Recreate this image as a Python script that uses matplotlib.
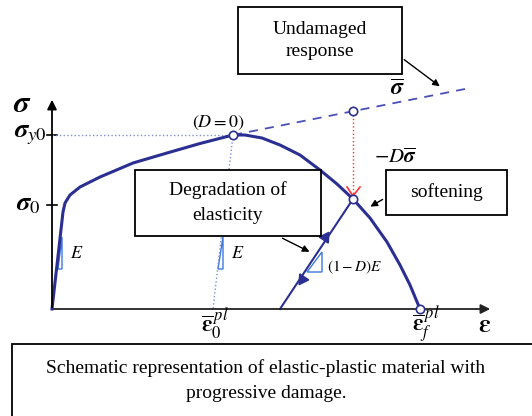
import matplotlib.pyplot as plt
from matplotlib.patches import Rectangle, Polygon
import numpy as np

plt.rcParams['mathtext.fontset'] = 'stix'
plt.rcParams['font.family'] = 'Liberation Serif'

# schematic coordinates: strain (eps) to the right, stress (sig) up
hard_eps = [0, 11, 13, 18, 28, 48, 81, 115, 148, 181]
hard_sig = [0, 97, 106, 114, 122, 132, 146, 156, 165.5, 174]
soft_eps = [181, 193, 210, 228, 248, 268, 285, 301, 318, 335, 348, 358, 368]
soft_sig = [174, 174, 171, 164, 154, 139, 125, 110, 91, 67, 44, 24, 0]
undamaged_eps = [181, 418]
undamaged_sig = [174, 221]
peak = (181, 174)
soft_pt = (301, 110)
bar_pt = (301, 198)
unload_end = (228, 0)
eps0_pl = 161
epsf_pl = 368
sig_0 = 104
sig_y0 = 174

curve_c = '#2b2f91'
light_c = '#3d78e0'
dot_c = '#7f8fd8'
red_c = '#ff3030'

fig = plt.figure(figsize=(5.32, 4.16), dpi=100)
ax = fig.add_axes([0, 0, 1, 1])
ax.set_xlim(-52, 480)
ax.set_ylim(-107, 309)
ax.axis('off')

# axes arrows
ax.annotate('', xy=(0, 212), xytext=(0, -1),
            arrowprops=dict(arrowstyle='-|>', color='black', lw=1.3, mutation_scale=14))
ax.annotate('', xy=(441, 0), xytext=(-1, 0),
            arrowprops=dict(arrowstyle='-|>', color='#222222', lw=1.3, mutation_scale=14))
for s in [sig_0, sig_y0]:
    ax.plot([-5, 5], [s, s], color='black', lw=1.2)

# dotted guides
ax.plot([0, peak[0]], [sig_y0, sig_y0], color=dot_c, lw=1, ls=':')
ax.plot([peak[0], eps0_pl], [peak[1], 0], color=dot_c, lw=1, ls=':')
ax.plot([bar_pt[0], soft_pt[0]], [bar_pt[1], soft_pt[1] + 4], color=red_c, lw=1, ls=':')
ax.plot([soft_pt[0] - 6, soft_pt[0], soft_pt[0] + 7], [soft_pt[1] + 12, soft_pt[1] + 3, soft_pt[1] + 12],
        color=red_c, lw=1.2)

# undamaged response
ax.plot(undamaged_eps, undamaged_sig, color='#4a4fb5', lw=1.3, ls=(0, (5, 4)))

# damaged curve
ax.plot(hard_eps, hard_sig, color=curve_c, lw=2.2, solid_joinstyle='round')
ax.plot(soft_eps, soft_sig, color=curve_c, lw=2.2, solid_joinstyle='round')
ax.plot([unload_end[0], soft_pt[0]], [unload_end[1], soft_pt[1]], color=curve_c, lw=1.5)
ang = np.degrees(np.arctan2(soft_pt[1] - unload_end[1], soft_pt[0] - unload_end[0]))
ax.plot(273, 72, marker=(3, 0, ang - 90), ms=9, color=curve_c)
ax.plot(250, 30, marker=(3, 0, ang + 90), ms=9, color=curve_c)

# slope triangles
for tri in [[(6, 40), (10, 40), (10, 72)], [(166, 40), (171, 40), (171, 72)],
            [(255, 37), (270, 37), (270, 57)]]:
    ax.add_patch(Polygon(tri, closed=True, fill=False, ec=light_c, lw=1))

# circles
for p in [peak, soft_pt, bar_pt, (epsf_pl, 0)]:
    ax.plot(*p, marker='o', ms=6, mfc='white', mec=curve_c, mew=1.2, zorder=5)

# math labels
ax.text(-30, 205, r'$\boldsymbol{\sigma}$', fontsize=22, ha='center', va='center')
ax.text(-22, 174, r'$\boldsymbol{\sigma}_{y0}$', fontsize=19, ha='center', va='center')
ax.text(-24, 104, r'$\boldsymbol{\sigma}_0$', fontsize=19, ha='center', va='center')
ax.text(25, 56, r'$E$', fontsize=13, ha='center', va='center')
ax.text(186, 56, r'$E$', fontsize=13, ha='center', va='center')
ax.text(275, 42, r'$(1-D)E$', fontsize=11, ha='left', va='center')
ax.text(166, 186, r'$(D=0)$', fontsize=13, ha='center', va='center')
ax.text(345, 219, r'$\overline{\boldsymbol{\sigma}}$', fontsize=17, ha='center', va='center')
ax.text(343, 151, r'$-D\overline{\boldsymbol{\sigma}}$', fontsize=15, ha='center', va='center')
ax.text(163, -15, r'$\overline{\boldsymbol{\varepsilon}}_0^{\,pl}$', fontsize=17, ha='center', va='center')
ax.text(374, -15, r'$\overline{\boldsymbol{\varepsilon}}_f^{\,pl}$', fontsize=17, ha='center', va='center')
ax.text(433, -17, r'$\boldsymbol{\varepsilon}$', fontsize=19, ha='center', va='center')

# text boxes
boxes = [((186, 235), 164, 67, ['Undamaged', 'response'], [279, 257]),
         ((83, 73), 186, 66, ['Degradation of', 'elasticity'], [119, 94]),
         ((334, 94), 121, 45, ['softening'], [117])]
for (x0, y0), w, h, lines, ys in boxes:
    ax.add_patch(Rectangle((x0, y0), w, h, fc='white', ec='black', lw=1.3, zorder=6))
    for t, y in zip(lines, ys):
        ax.text(x0 + w / 2, y, t, fontsize=14, ha='center', va='center', zorder=7)

for start, end in [((350, 251), (390, 221)), ((228, 72), (260, 56)), ((333, 111), (316, 101))]:
    ax.annotate('', xy=end, xytext=start,
                arrowprops=dict(arrowstyle='-|>', color='black', lw=1, mutation_scale=10))

ax.add_patch(Rectangle((-40, -130), 540, 95, fc='white', ec='black', lw=1.3, zorder=6))
ax.text(214, -59, 'Schematic representation of elastic-plastic material with',
        fontsize=14, ha='center', va='center', zorder=7)
ax.text(214, -84, 'progressive damage.', fontsize=14, ha='center', va='center', zorder=7)

fig.savefig('out.png', dpi=100)
